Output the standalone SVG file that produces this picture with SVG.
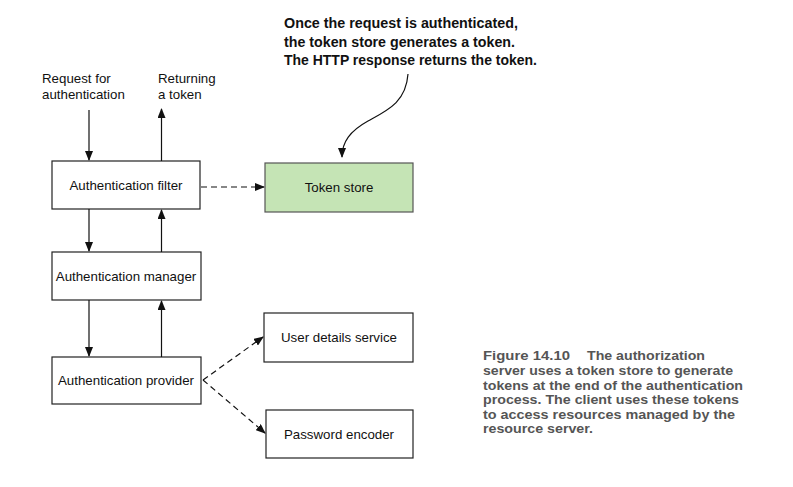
<svg xmlns="http://www.w3.org/2000/svg" width="793" height="487" viewBox="0 0 793 487">
<style>
.box{fill:#fff;stroke:#222;stroke-width:1.2}
.green{fill:#c5e4b5;stroke:#555;stroke-width:1.2}
.lbl{font-family:"Liberation Sans",Arial,sans-serif;font-size:13.3px;fill:#111;text-anchor:middle}
.side{font-family:"Liberation Sans",Arial,sans-serif;font-size:13.3px;fill:#111}
.note{font-family:"Liberation Sans",Arial,sans-serif;font-size:14.5px;font-weight:bold;fill:#111}
.cap{font-family:"Liberation Sans",Arial,sans-serif;font-size:13px;font-weight:bold;fill:#555}
.ln{stroke:#111;stroke-width:1.2;fill:none}
.dash{stroke:#111;stroke-width:1.2;fill:none;stroke-dasharray:6,4}
</style>
<defs>
<marker id="ah" markerWidth="10" markerHeight="8" refX="9" refY="4" orient="auto" markerUnits="userSpaceOnUse">
<path d="M0,0 L10,4 L0,8 Z" fill="#111"/>
</marker>
</defs>
<rect width="793" height="487" fill="#fff"/>
<g id="texts">
<text class="side" x="42" y="83">Request for</text>
<text class="side" x="42" y="99">authentication</text>
<text class="side" x="158" y="83">Returning</text>
<text class="side" x="158" y="99">a token</text>
<text class="note" x="284" y="28" textLength="234" lengthAdjust="spacingAndGlyphs">Once the request is authenticated,</text>
<text class="note" x="284" y="47" textLength="231" lengthAdjust="spacingAndGlyphs">the token store generates a token.</text>
<text class="note" x="284" y="65" textLength="253" lengthAdjust="spacingAndGlyphs">The HTTP response returns the token.</text>
<text class="cap" x="483" y="360" textLength="87" lengthAdjust="spacingAndGlyphs">Figure 14.10</text>
<text class="cap" x="587" y="360" textLength="118" lengthAdjust="spacingAndGlyphs">The authorization</text>
<text class="cap" x="483" y="375" textLength="250" lengthAdjust="spacingAndGlyphs">server uses a token store to generate</text>
<text class="cap" x="483" y="390" textLength="260" lengthAdjust="spacingAndGlyphs">tokens at the end of the authentication</text>
<text class="cap" x="483" y="404" textLength="256" lengthAdjust="spacingAndGlyphs">process. The client uses these tokens</text>
<text class="cap" x="483" y="419" textLength="252" lengthAdjust="spacingAndGlyphs">to access resources managed by the</text>
<text class="cap" x="483" y="433" textLength="110" lengthAdjust="spacingAndGlyphs">resource server.</text>
</g>
<g id="filter"><rect class="box" x="52" y="161" width="148" height="48"/><text class="lbl" x="126" y="190">Authentication filter</text></g>
<g id="tokenstore"><rect class="green" x="265" y="163" width="148" height="49"/><text class="lbl" x="339" y="192">Token store</text></g>
<g id="manager"><rect class="box" x="52" y="252" width="149" height="48"/><text class="lbl" x="126" y="281">Authentication manager</text></g>
<g id="provider"><rect class="box" x="52" y="357" width="149" height="47"/><text class="lbl" x="126" y="385">Authentication provider</text></g>
<g id="userdetails"><rect class="box" x="264" y="313" width="149" height="49"/><text class="lbl" x="339" y="342">User details service</text></g>
<g id="encoder"><rect class="box" x="266" y="410" width="147" height="48"/><text class="lbl" x="339" y="439">Password encoder</text></g>
<g id="connectors">
<line class="ln" x1="89" y1="110" x2="89" y2="160" marker-end="url(#ah)"/>
<line class="ln" x1="161.5" y1="161" x2="161.5" y2="109" marker-end="url(#ah)"/>
<line class="ln" x1="89" y1="209" x2="89" y2="251" marker-end="url(#ah)"/>
<line class="ln" x1="161.5" y1="252" x2="161.5" y2="210" marker-end="url(#ah)"/>
<line class="ln" x1="89" y1="300" x2="89" y2="356" marker-end="url(#ah)"/>
<line class="ln" x1="161.5" y1="357" x2="161.5" y2="301" marker-end="url(#ah)"/>
<line class="dash" x1="201" y1="187" x2="264" y2="187" marker-end="url(#ah)"/>
<line class="dash" x1="203" y1="380" x2="263" y2="337" marker-end="url(#ah)"/>
<line class="dash" x1="203" y1="380" x2="265" y2="433" marker-end="url(#ah)"/>
<path class="ln" stroke-width="0.9" d="M408,74 C406,102 388,110 368,121 C350,131 342,142 342,157" marker-end="url(#ah)"/>
</g>
</svg>
